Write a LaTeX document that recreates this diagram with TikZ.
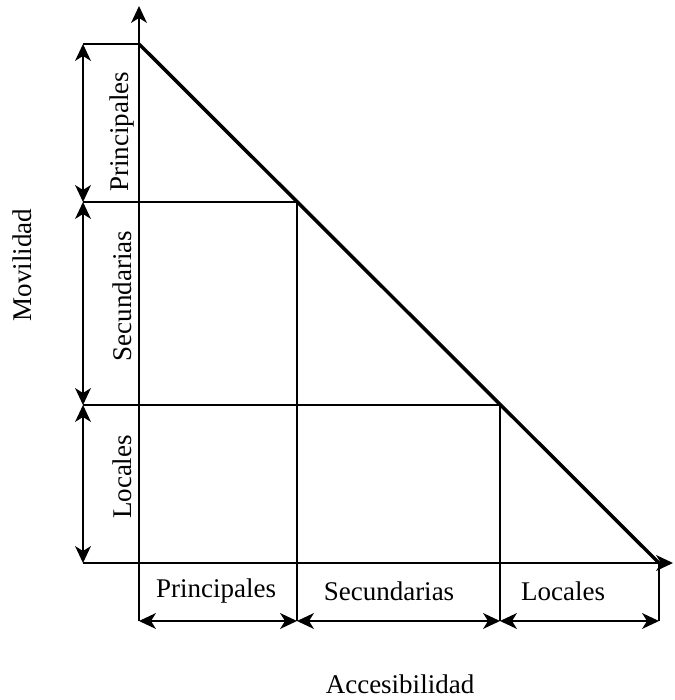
\documentclass[tikz,border=0pt]{standalone}
\usepackage{fontspec}
\setmainfont{Liberation Serif}
\begin{document}
\begin{tikzpicture}[x=1pt,y=-1pt]
\tikzset{
  head/.pic={\fill (0,0) -- (-8,17) -- (0,12) -- (8,17) -- cycle;},
  thin line/.style={line width=2pt},
  dimline/.style={line width=2pt,shorten <=9pt,shorten >=9pt},
  axisline/.style={line width=2pt,shorten >=9pt},
  lbl/.style={font=\fontsize{27}{31}\selectfont,inner sep=0pt},
  vlbl/.style={lbl,rotate=90}}
\useasboundingbox (0,0) rectangle (674,700);
% coordinates
\coordinate (T) at (139,44);
\coordinate (A) at (297,202);
\coordinate (B) at (500,405);
\coordinate (R) at (659,563);
\coordinate (Otop) at (139,6);
\coordinate (Obot) at (139,621);
\coordinate (Xl) at (83,563);
\coordinate (Xr) at (673,563);
\coordinate (L1) at (83,44);
\coordinate (L2) at (83,202);
\coordinate (L3) at (83,405);
\coordinate (L4) at (83,563);
\coordinate (D1) at (139,621);
\coordinate (D2) at (297,621);
\coordinate (D3) at (500,621);
\coordinate (D4) at (659,621);
% axes
\draw[axisline] (Obot) -- (Otop);
\pic at (Otop) {head};
\draw[axisline] (Xl) -- (Xr);
\pic[rotate=-90] at (Xr) {head};
% grid lines
\draw[thin line] (L1) -- (T);
\draw[thin line] (L2) -- (A);
\draw[thin line] (L3) -- (B);
\draw[thin line] (A) -- (D2);
\draw[thin line] (B) -- (D3);
\draw[thin line] (R) -- (D4);
% diagonal
\draw[line width=3.5pt] (T) -- (R);
% vertical dimension arrows
\draw[dimline] (L1) -- (L2);
\draw[dimline] (L2) -- (L3);
\draw[dimline] (L3) -- (L4);
\pic at (L1) {head};
\pic[rotate=180] at (L2) {head};
\pic at (L2) {head};
\pic[rotate=180] at (L3) {head};
\pic at (L3) {head};
\pic[rotate=180] at (L4) {head};
% horizontal dimension arrows
\draw[dimline] (D1) -- (D2);
\draw[dimline] (D2) -- (D3);
\draw[dimline] (D3) -- (D4);
\pic[rotate=90] at (D1) {head};
\pic[rotate=-90] at (D2) {head};
\pic[rotate=90] at (D2) {head};
\pic[rotate=-90] at (D3) {head};
\pic[rotate=90] at (D3) {head};
\pic[rotate=-90] at (D4) {head};
% labels
\node[vlbl] (vp) at (122,132) {Principales};
\node[vlbl] (vs) at (122,296) {Secundarias};
\node[vlbl] (vl) at (122,477) {Locales};
\node[lbl] (hp) at (216,591) {Principales};
\node[lbl] (hs) at (389,591) {Secundarias};
\node[lbl] (hl) at (563,591) {Locales};
\node[vlbl] (mov) at (22,265) {Movilidad};
\node[lbl] (acc) at (400,684) {Accesibilidad};
\end{tikzpicture}
\end{document}
